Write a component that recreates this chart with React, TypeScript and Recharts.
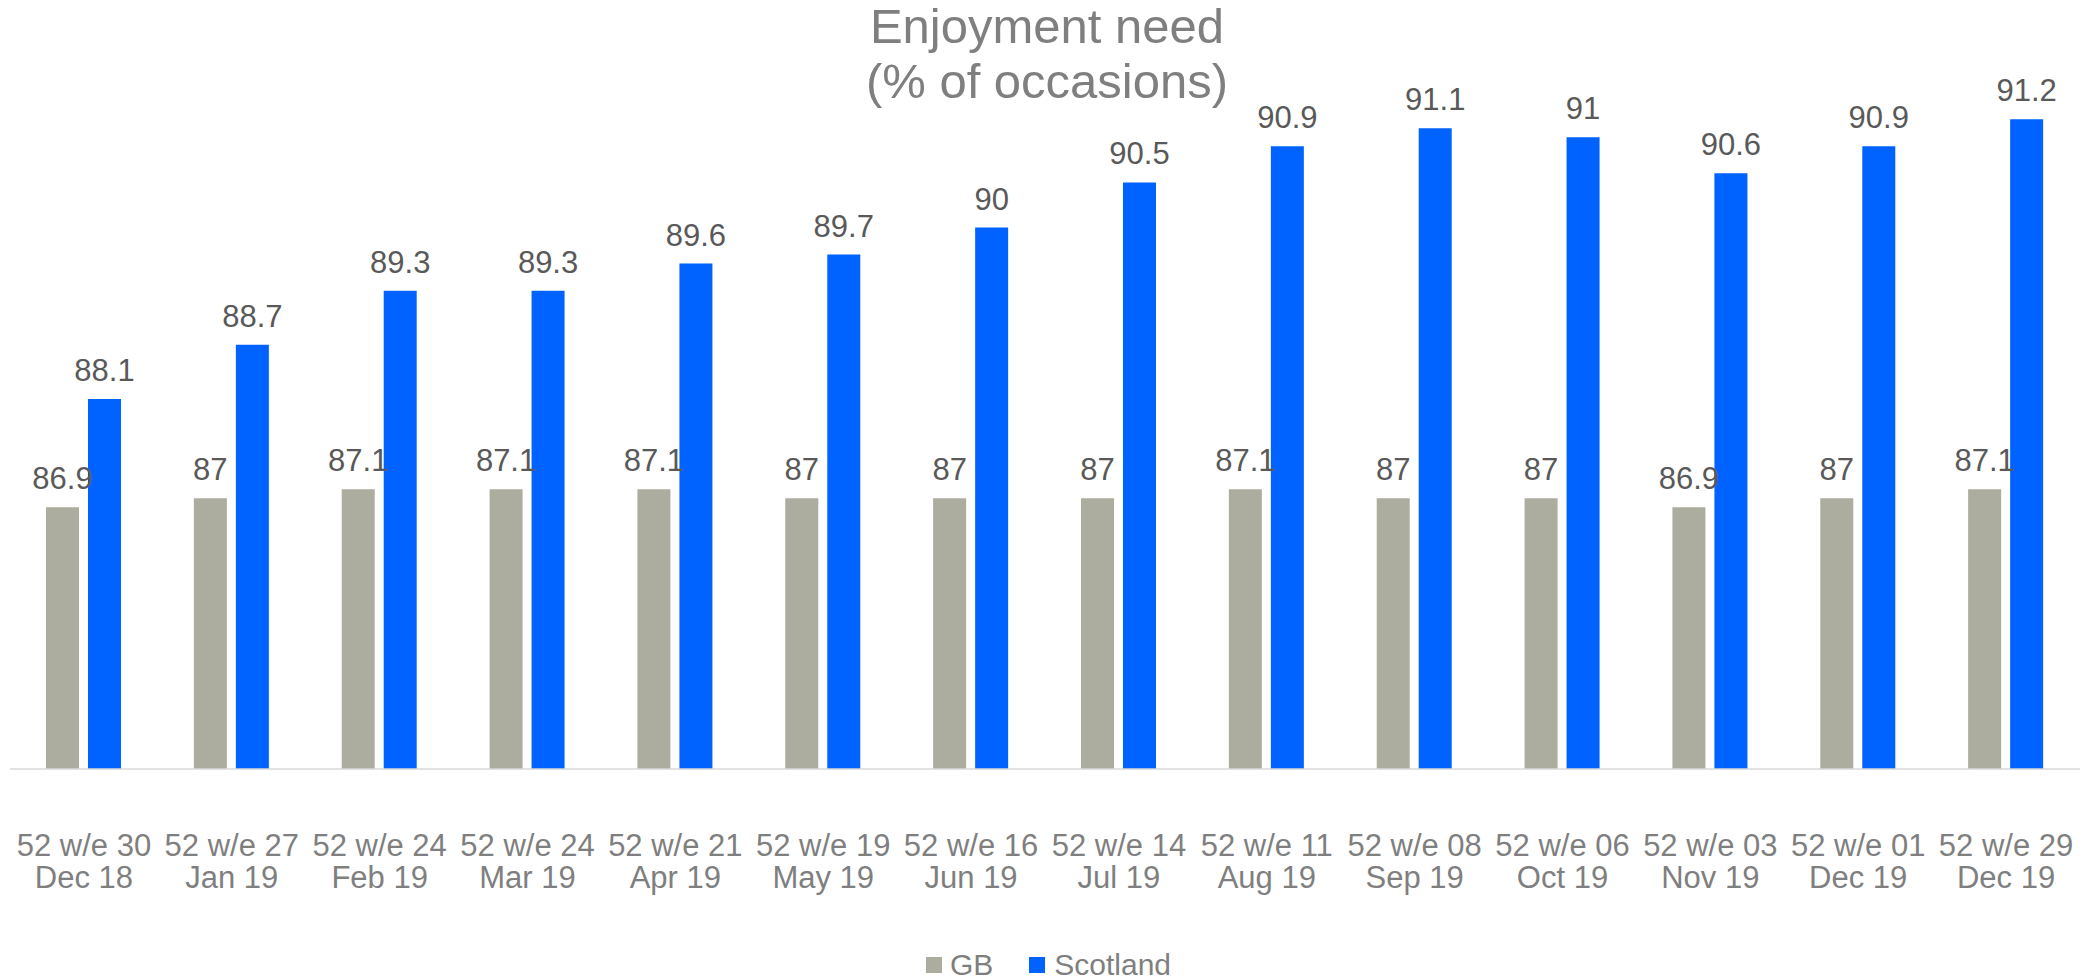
import React from "react";
import { BarChart, Bar, XAxis, YAxis, Legend, LabelList } from "recharts";

const categories = [
  "52 w/e 30|Dec 18",
  "52 w/e 27|Jan 19",
  "52 w/e 24|Feb 19",
  "52 w/e 24|Mar 19",
  "52 w/e 21|Apr 19",
  "52 w/e 19|May 19",
  "52 w/e 16|Jun 19",
  "52 w/e 14|Jul 19",
  "52 w/e 11|Aug 19",
  "52 w/e 08|Sep 19",
  "52 w/e 06|Oct 19",
  "52 w/e 03|Nov 19",
  "52 w/e 01|Dec 19",
  "52 w/e 29|Dec 19",
];
const gbValues = [86.9, 87, 87.1, 87.1, 87.1, 87, 87, 87, 87.1, 87, 87, 86.9, 87, 87.1];
const scotlandValues = [88.1, 88.7, 89.3, 89.3, 89.6, 89.7, 90, 90.5, 90.9, 91.1, 91, 90.6, 90.9, 91.2];
const yDomain = [84, 92];
const titleLines = ["Enjoyment need", "(% of occasions)"];

const GB_COLOR = "#ACAD9E";
const SCOT_COLOR = "#0062FF";
const FONT = "'Liberation Sans', Arial, Helvetica, sans-serif";

const data = categories.map((c, i) => ({ name: c, GB: gbValues[i], Scotland: scotlandValues[i] }));

const renderTopLabel = (props: any) => {
  const { x, y, width, value } = props;
  return (
    <text
      x={Number(x) + Number(width) / 2}
      y={Number(y) - 18}
      textAnchor="middle"
      fill="#595959"
      fontSize={31}
      fontFamily={FONT}
    >
      {value}
    </text>
  );
};

const renderTick = (props: any) => {
  const { x, y, payload } = props;
  const [l1, l2] = String(payload.value).split("|");
  return (
    <text x={x} y={y} textAnchor="middle" fill="#7F7F7F" fontSize={31} fontFamily={FONT}>
      <tspan x={x} dy={87}>{l1}</tspan>
      <tspan x={x} dy={32}>{l2}</tspan>
    </text>
  );
};

const renderLegend = () => {
  const items = [
    { label: "GB", color: GB_COLOR, gap: 8 },
    { label: "Scotland", color: SCOT_COLOR, gap: 9 },
  ];
  return (
    <div
      style={{
        display: "flex",
        justifyContent: "center",
        alignItems: "center",
        height: 40,
        width: 2090,
        paddingLeft: 7,
        boxSizing: "border-box",
        fontFamily: FONT,
        fontSize: 30,
        lineHeight: "40px",
        color: "#7F7F7F",
      }}
    >
      {items.map((it, i) => (
        <div key={it.label} style={{ display: "flex", alignItems: "center", marginLeft: i === 0 ? 0 : 36 }}>
          <div style={{ width: 16, height: 16, background: it.color, marginRight: it.gap }} />
          <span>{it.label}</span>
        </div>
      ))}
    </div>
  );
};

export default function App() {
  return (
    <div style={{ position: "absolute", left: 0, top: 0, width: 2090, height: 980, background: "#fff" }}>
      <div
        style={{
          position: "absolute",
          left: 0,
          top: -1,
          width: 2094,
          textAlign: "center",
          fontFamily: FONT,
          fontSize: 49,
          lineHeight: "55px",
          color: "#7F7F7F",
          zIndex: 2,
          pointerEvents: "none",
        }}
      >
        {titleLines.map((t) => (
          <div key={t}>{t}</div>
        ))}
      </div>
      <BarChart
        width={2090}
        height={980}
        data={data}
        margin={{ top: 47, right: 10, left: 10, bottom: 71 }}
        barSize={33}
        barGap={9}
      >
        <XAxis
          dataKey="name"
          interval={0}
          tickLine={false}
          tickSize={0}
          tickMargin={0}
          height={100}
          axisLine={{ stroke: "#D9D9D9", strokeWidth: 1.5 }}
          tick={renderTick}
        />
        <YAxis hide domain={yDomain} />
        <Legend
          verticalAlign="bottom"
          content={renderLegend}
          wrapperStyle={{ position: "absolute", top: 945, left: 0, bottom: "auto", width: 2090, height: 40 }}
        />
        <Bar dataKey="GB" fill={GB_COLOR} isAnimationActive={false}>
          <LabelList dataKey="GB" content={renderTopLabel} />
        </Bar>
        <Bar dataKey="Scotland" fill={SCOT_COLOR} isAnimationActive={false}>
          <LabelList dataKey="Scotland" content={renderTopLabel} />
        </Bar>
      </BarChart>
    </div>
  );
}
